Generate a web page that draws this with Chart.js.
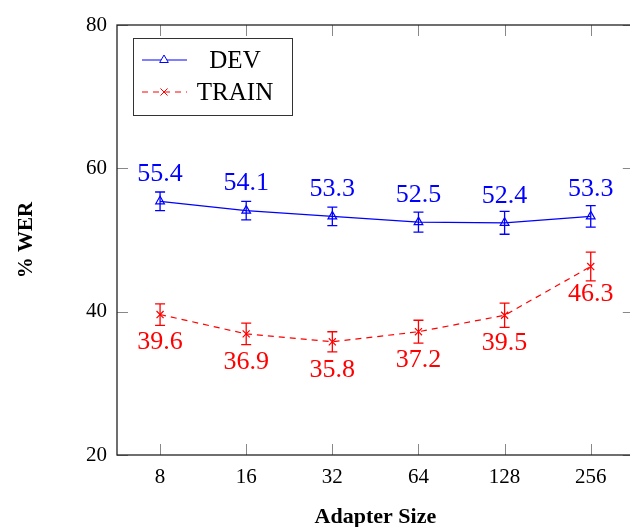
<!DOCTYPE html>
<html>
<head>
<meta charset="utf-8">
<script src="https://cdn.jsdelivr.net/npm/chart.js@4.4.0/dist/chart.umd.min.js"></script>
<style>
  html, body { margin: 0; padding: 0; background: #fff; overflow: hidden; }
  canvas { display: block; }
</style>
</head>
<body>
<canvas id="werChart" width="640" height="527"></canvas>
<script>
// data
const adapterSizes = ['8', '16', '32', '64', '128', '256'];
const devWer = [55.4, 54.1, 53.3, 52.5, 52.4, 53.3];
const devErr = [1.3, 1.3, 1.3, 1.4, 1.6, 1.5];
const trainWer = [39.6, 36.9, 35.8, 37.2, 39.5, 46.3];
const trainErr = [1.5, 1.5, 1.4, 1.6, 1.7, 2.0];
const yTicks = [20, 40, 60, 80];

const SERIF = '"Liberation Serif", "DejaVu Serif", serif';

// frame + inward tick marks on all four sides
const framePlugin = {
    id: 'frame',
    afterDraw(chart) {
        const { ctx, chartArea: a, scales } = chart;
        ctx.save();
        ctx.strokeStyle = '#888';
        ctx.lineWidth = 1;
        ctx.beginPath();
        adapterSizes.forEach((s, i) => {
            const x = Math.round(scales.x.getPixelForValue(i)) + 0.5;
            ctx.moveTo(x, a.bottom); ctx.lineTo(x, a.bottom - 11);
            ctx.moveTo(x, a.top); ctx.lineTo(x, a.top + 11);
        });
        yTicks.forEach(v => {
            const y = Math.round(scales.y.getPixelForValue(v)) + 0.5;
            ctx.moveTo(a.left, y); ctx.lineTo(a.left + 11, y);
            ctx.moveTo(a.right, y); ctx.lineTo(a.right - 11, y);
        });
        ctx.stroke();
        ctx.strokeStyle = '#222';
        ctx.lineWidth = 1.3;
        ctx.strokeRect(a.left, a.top, a.right - a.left, a.bottom - a.top);
        ctx.restore();
    }
};

// error bars and value labels
const errorPlugin = {
    id: 'errors',
    afterDatasetsDraw(chart) {
        const { ctx, scales } = chart;
        chart.data.datasets.forEach((ds, di) => {
            ctx.save();
            ctx.strokeStyle = ds.borderColor;
            ctx.lineWidth = 1.3;
            ctx.setLineDash([]);
            ds.data.forEach((v, i) => {
                const x = scales.x.getPixelForValue(i);
                const yTop = scales.y.getPixelForValue(v + ds.errors[i]);
                const yBot = scales.y.getPixelForValue(v - ds.errors[i]);
                ctx.beginPath();
                ctx.moveTo(x, yTop); ctx.lineTo(x, yBot);
                ctx.moveTo(x - 5, yTop); ctx.lineTo(x + 5, yTop);
                ctx.moveTo(x - 5, yBot); ctx.lineTo(x + 5, yBot);
                ctx.stroke();

                const y = scales.y.getPixelForValue(v);
                ctx.fillStyle = ds.borderColor;
                ctx.font = '26px ' + SERIF;
                ctx.textAlign = 'center';
                ctx.textBaseline = 'middle';
                ctx.fillText(v.toFixed(1), x, y + (ds.labelAbove ? -27 : 28));
            });
            ctx.restore();
        });
    }
};

// legend box, text centred like pgfplots
const legendPlugin = {
    id: 'boxLegend',
    afterDraw(chart) {
        const { ctx } = chart;
        const bx = 133, by = 38, bw = 159, bh = 77;
        ctx.save();
        ctx.fillStyle = '#fff';
        ctx.fillRect(bx, by, bw, bh);
        ctx.strokeStyle = '#333';
        ctx.lineWidth = 1;
        ctx.strokeRect(bx + 0.5, by + 0.5, bw, bh);
        chart.data.datasets.forEach((ds, i) => {
            const y = 60 + i * 32;
            ctx.strokeStyle = ds.borderColor;
            ctx.lineWidth = 1;
            ctx.setLineDash(ds.borderDash || []);
            ctx.beginPath();
            ctx.moveTo(142, y); ctx.lineTo(187, y);
            ctx.stroke();
            ctx.setLineDash([]);
            Chart.helpers.drawPoint(ctx, {
                pointStyle: ds.pointStyle, radius: 5, borderWidth: 1.2
            }, 164, y);
            ctx.fillStyle = '#000';
            ctx.font = '25px ' + SERIF;
            ctx.textAlign = 'center';
            ctx.textBaseline = 'middle';
            ctx.fillText(ds.label, 235, y + 1);
        });
        ctx.restore();
    }
};

const ctx = document.getElementById('werChart').getContext('2d');
const werChart = new Chart(ctx, {
    type: 'line',
    data: {
        labels: adapterSizes,
        datasets: [{
            label: 'DEV',
            data: devWer,
            errors: devErr,
            labelAbove: true,
            borderColor: '#0000ff',
            backgroundColor: 'rgba(0,0,0,0)',
            borderWidth: 1.2,
            pointStyle: 'triangle',
            pointRadius: 5,
            pointBorderWidth: 1.2,
            tension: 0
        }, {
            label: 'TRAIN',
            data: trainWer,
            errors: trainErr,
            labelAbove: false,
            borderColor: '#ff0000',
            backgroundColor: 'rgba(0,0,0,0)',
            borderWidth: 1.2,
            borderDash: [6, 5],
            pointStyle: 'crossRot',
            pointRadius: 5,
            pointBorderWidth: 1.2,
            tension: 0
        }]
    },
    options: {
        responsive: false,
        animation: false,
        layout: { padding: { top: 25, right: 3, left: 0, bottom: 0 } },
        plugins: {
            legend: { display: false },
            tooltip: { enabled: false }
        },
        scales: {
            x: {
                type: 'category',
                offset: true,
                grid: { display: false, drawTicks: false },
                border: { display: false },
                ticks: { color: '#000', padding: 10, font: { family: SERIF, size: 21 } },
                title: {
                    display: true,
                    text: 'Adapter Size',
                    color: '#000',
                    padding: { top: 15, bottom: 0 },
                    font: { family: SERIF, size: 22, weight: 'bold', lineHeight: 0.9 }
                },
                afterFit(scale) { scale.height = 72; }
            },
            y: {
                min: 20,
                max: 80,
                afterBuildTicks(scale) { scale.ticks = yTicks.map(v => ({ value: v })); },
                grid: { display: false, drawTicks: false },
                border: { display: false },
                ticks: { color: '#000', padding: 10, font: { family: SERIF, size: 21 } },
                title: {
                    display: true,
                    text: '% WER',
                    color: '#000',
                    padding: { bottom: 8, top: 14 },
                    font: { family: SERIF, size: 21, weight: 'bold' }
                },
                afterFit(scale) { scale.width = 117; }
            }
        }
    },
    plugins: [framePlugin, errorPlugin, legendPlugin]
});
</script>
</body>
</html>
